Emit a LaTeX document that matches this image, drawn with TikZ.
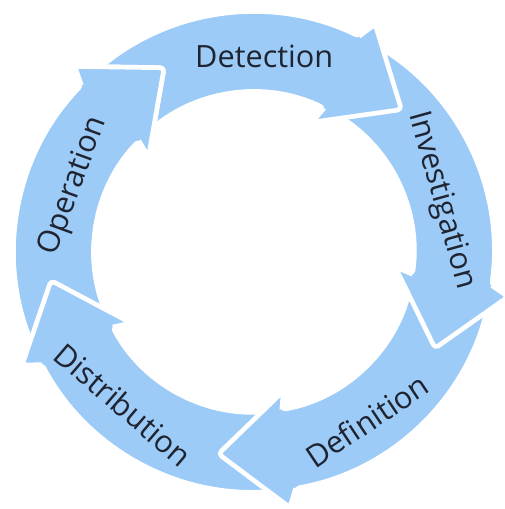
\documentclass[tikz,border=0pt]{standalone}
\usepackage{fontspec}
\setmainfont{Open Sans}
\usepackage{tikz}
\definecolor{cblue}{HTML}{9CCBF7}
\definecolor{ctext}{HTML}{1F2430}

\begin{document}
\begin{tikzpicture}[x=0.75pt, y=0.75pt]
    \tikzset{band/.style={
      fill=cblue,
      draw=white,
      line width=3.5pt,
      line join=round,
      rounded corners=3pt},
      lbl/.style={
      font=\fontsize{23}{26}\selectfont,
      text=ctext,
      inner sep=0pt}}
    \useasboundingbox (-254,-257) rectangle (251,252);
    % bodies, tail under the previous head
    \foreach \b in {64,-8,-80,-152,-224} {
      \pgfmathsetmacro{\t}{\b+69}
      \pgfmathsetmacro{\p}{\b-20}
      \draw[band] (\t:240) arc[start angle=\t, end angle=\b, radius=240]
        -- (\b-2:258) -- (\p:205) -- (\b+2:142) -- (\b:160)
        arc[start angle=\b, end angle=\t, radius=160] -- cycle;
    }
    % heads again, on top of the next tail
    \foreach \b in {64,-8,-80,-152,-224} {
      \pgfmathsetmacro{\p}{\b-20}
      \draw[band] (\b:240) -- (\b-2:258) -- (\p:205) -- (\b+2:142) -- (\b:160);
    }
    \node[lbl] at (87:196) (det) {Detection};
    \node[lbl, rotate=-74.5] at (15.5:194) (inv) {Investigation};
    \node[lbl, rotate=33.8] at (-56.2:203) (def) {Definition};
    \node[lbl, rotate=-40.6] at (229.4:201) (dis) {Distribution};
    \node[lbl, rotate=70] at (160:192) (ope) {Operation};
  \end{tikzpicture}
\end{document}
